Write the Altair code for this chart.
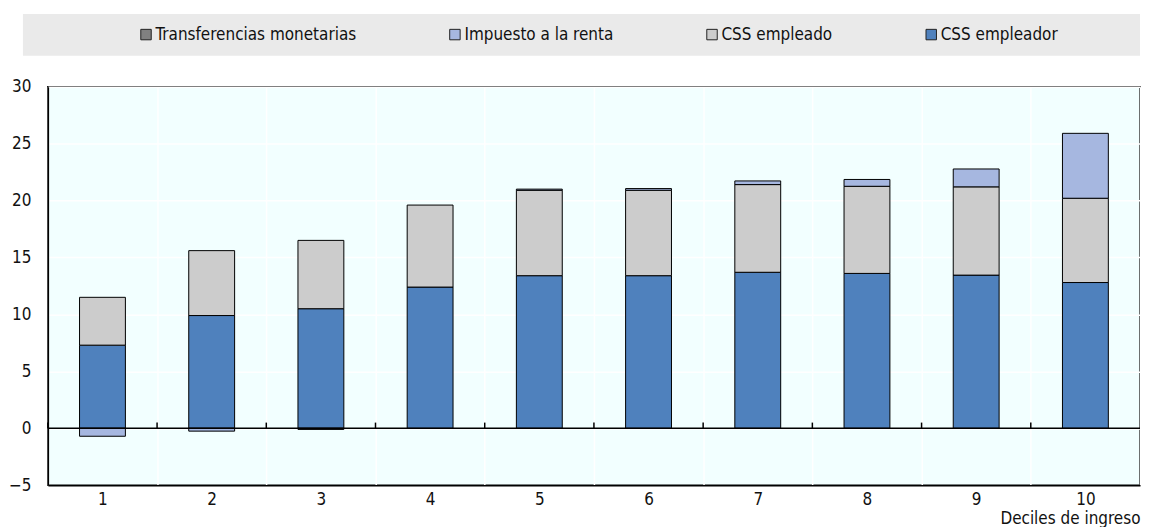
import altair as alt
import pandas as pd

deciles = ["1", "2", "3", "4", "5", "6", "7", "8", "9", "10"]
series = ["Transferencias monetarias", "Impuesto a la renta", "CSS empleado", "CSS empleador"]
colors = ["#808080", "#A6B7E0", "#CCCCCC", "#4F81BD"]

css_empleador = [7.3, 9.9, 10.5, 12.4, 13.4, 13.4, 13.7, 13.6, 13.45, 12.8]
css_empleado = [4.2, 5.7, 6.0, 7.2, 7.5, 7.5, 7.7, 7.65, 7.75, 7.4]
impuesto = [-0.7, -0.25, -0.1, 0.0, 0.1, 0.15, 0.32, 0.6, 1.57, 5.7]
transferencias = [0, 0, 0, 0, 0, 0, 0, 0, 0, 0]

rows = []
for i, d in enumerate(deciles):
    rows.append({"decile": d, "series": "CSS empleador", "value": css_empleador[i], "ord": 1})
    rows.append({"decile": d, "series": "CSS empleado", "value": css_empleado[i], "ord": 2})
    rows.append({"decile": d, "series": "Impuesto a la renta", "value": impuesto[i], "ord": 3})
    rows.append({"decile": d, "series": "Transferencias monetarias", "value": transferencias[i], "ord": 4})
df = pd.DataFrame(rows)

FONT = "Liberation Sans Narrow, Arial Narrow, DejaVu Sans Condensed, sans-serif"
W, H = 1096, 400

xscale = alt.Scale(paddingInner=0, paddingOuter=0)
xaxis = alt.Axis(
    title="Deciles de ingreso", titleAnchor="end", titleFontWeight="normal",
    titleFontSize=17, titleFont=FONT, titleColor="#111", titlePadding=3,
    labelFont=FONT, labelFontSize=17, labelColor="#111", labelPadding=6, labelAngle=0,
    ticks=False, grid=True, gridColor="white", gridWidth=1.5, tickBand="extent",
    domainColor="black", domainWidth=1.5,
)
yscale = alt.Scale(domain=[-5, 30], nice=False)
yaxis = alt.Axis(
    title=None, values=[-5, 0, 5, 10, 15, 20, 25, 30], labelFont=FONT, labelFontSize=17,
    labelColor="#111", labelPadding=17, ticks=False, grid=True, gridColor="white",
    gridWidth=1.5, domainColor="black", domainWidth=1.5, minExtent=37, maxExtent=37,
)

bars = alt.Chart(df).transform_filter("datum.value != 0").mark_bar(
    stroke="black", strokeWidth=1, width=alt.RelativeBandSize(0.42)
).encode(
    x=alt.X("decile:N", sort=deciles, scale=xscale, axis=xaxis),
    y=alt.Y("value:Q", stack="zero", scale=yscale, axis=yaxis),
    color=alt.Color(
        "series:N", scale=alt.Scale(domain=series, range=colors),
        legend=alt.Legend(
            title=None, orient="none", legendX=90, legendY=-61, direction="horizontal",
            columns=4, symbolType="square", symbolSize=110, symbolStrokeColor="#222",
            symbolStrokeWidth=1, symbolOpacity=1, labelFont=FONT, labelFontSize=17,
            labelColor="#111", columnPadding=90, labelOffset=1, padding=0, labelLimit=400,
        ),
    ),
    order=alt.Order("ord:Q"),
)

zero_line = alt.Chart(pd.DataFrame({"v": [0]})).mark_rule(color="black", strokeWidth=1.5).encode(
    y=alt.Y("v:Q", scale=yscale, axis=yaxis)
)

ticks = alt.Chart(pd.DataFrame({"decile": deciles, "y0": [0] * 10, "y1": [0.5] * 10})).mark_rule(
    color="black", strokeWidth=1.5
).encode(
    x=alt.X("decile:N", sort=deciles, scale=xscale, axis=xaxis, bandPosition=0),
    y=alt.Y("y0:Q", scale=yscale, axis=yaxis),
    y2="y1:Q",
)

legend_bg = alt.Chart(pd.DataFrame({"a": [0]})).mark_rect(color="#EAEAEA").encode(
    x=alt.value(-25), x2=alt.value(W), y=alt.value(-73), y2=alt.value(-31)
)

chart = alt.layer(legend_bg, bars, zero_line, ticks).properties(
    width=W, height=H, padding={"left": 0, "right": 0, "top": 5, "bottom": 0},
    background="white",
    view=alt.ViewBackground(fill="#F2FFFF", stroke="black", strokeWidth=1.5),
)

chart.save("out.html", embed_options={"renderer": "svg", "actions": False})
